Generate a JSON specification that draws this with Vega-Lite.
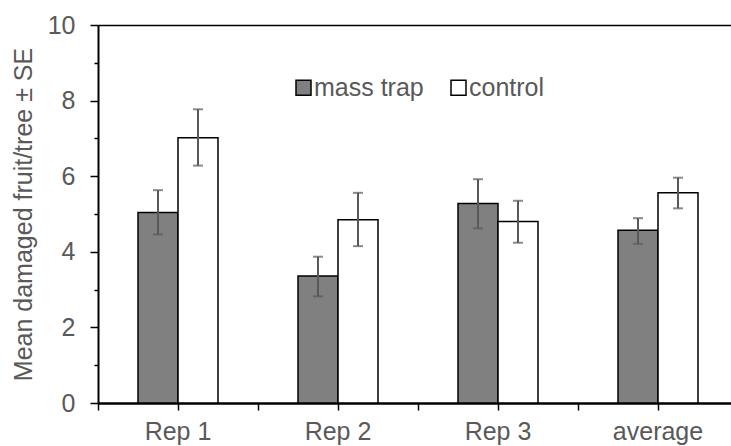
{
  "$schema": "https://vega.github.io/schema/vega-lite/v6.json",
  "width": 633,
  "height": 378,
  "autosize": {"type": "none"},
  "padding": {"left": 98, "top": 25, "right": 0, "bottom": 43},
  "background": "white",
  "config": {"view": {"stroke": null}, "axis": {"grid": false}, "font": "Liberation Sans"},
  "data": {
    "values": [
      {"rep": "Rep 1", "treatment": "mass trap", "mean": 5.04, "lower": 4.46, "upper": 5.63},
      {"rep": "Rep 1", "treatment": "control", "mean": 7.02, "lower": 6.28, "upper": 7.77},
      {"rep": "Rep 2", "treatment": "mass trap", "mean": 3.36, "lower": 2.82, "upper": 3.87},
      {"rep": "Rep 2", "treatment": "control", "mean": 4.85, "lower": 4.15, "upper": 5.56},
      {"rep": "Rep 3", "treatment": "mass trap", "mean": 5.28, "lower": 4.62, "upper": 5.92},
      {"rep": "Rep 3", "treatment": "control", "mean": 4.8, "lower": 4.24, "upper": 5.35},
      {"rep": "average", "treatment": "mass trap", "mean": 4.57, "lower": 4.21, "upper": 4.89},
      {"rep": "average", "treatment": "control", "mean": 5.56, "lower": 5.15, "upper": 5.96}
    ]
  },
  "layer": [
    {
      "mark": {"type": "bar", "stroke": "black", "strokeWidth": 1.5},
      "encoding": {
        "x": {
          "field": "rep", "type": "nominal",
          "sort": ["Rep 1", "Rep 2", "Rep 3", "average"],
          "scale": {"range": [0, 640], "paddingInner": 0, "paddingOuter": 0},
          "axis": {"orient": "bottom", "title": null, "labelAngle": 0, "labelFontSize": 25, "labelColor": "#595959", "tickColor": "black", "tickSize": 7, "tickWidth": 1.5, "domainColor": "black", "domainWidth": 2, "labelPadding": 9}
        },
        "xOffset": {"field": "treatment", "type": "nominal", "sort": ["mass trap", "control"], "scale": {"paddingInner": 0, "paddingOuter": 1.078}},
        "y": {
          "field": "mean", "type": "quantitative",
          "scale": {"domain": [0, 10], "nice": false},
          "axis": {"orient": "left", "values": [0, 2, 4, 6, 8, 10], "title": "Mean damaged fruit/tree ± SE", "titleFontSize": 25, "titleFontWeight": "normal", "titleColor": "#595959", "titlePadding": 11, "labelFontSize": 25, "labelColor": "#595959", "labelPadding": 15, "tickSize": 8, "tickWidth": 1.5, "tickColor": "black", "domainColor": "black", "domainWidth": 2}
        },
        "fill": {
          "field": "treatment", "type": "nominal",
          "scale": {"domain": ["mass trap", "control"], "range": ["#808080", "#ffffff"]},
          "legend": {"orient": "none", "legendX": 193, "legendY": 50, "direction": "horizontal", "title": null, "symbolType": "square", "symbolSize": 225, "symbolStrokeColor": "black", "symbolStrokeWidth": 1.5, "labelFontSize": 25, "labelColor": "#595959", "labelOffset": -2, "columnPadding": 22, "padding": 0}
        }
      }
    },
    {
      "mark": {"type": "rule", "color": "#595959", "strokeWidth": 2},
      "encoding": {
        "x": {"field": "rep", "type": "nominal", "sort": ["Rep 1", "Rep 2", "Rep 3", "average"], "axis": {"orient": "bottom", "tickBand": "extent", "labels": false, "title": null, "tickSize": 7, "tickWidth": 1.5, "tickColor": "black", "domainColor": "black", "domainWidth": 2}},
        "xOffset": {"field": "treatment", "type": "nominal", "sort": ["mass trap", "control"]},
        "y": {"field": "lower", "type": "quantitative", "axis": {"orient": "left", "values": [1, 3, 5, 7, 9], "labels": false, "title": null, "tickSize": 4, "tickWidth": 1.5, "tickColor": "black", "domain": false}},
        "y2": {"field": "upper"}
      }
    },
    {
      "mark": {"type": "tick", "color": "#595959", "size": 10, "thickness": 2},
      "encoding": {
        "x": {"field": "rep", "type": "nominal", "sort": ["Rep 1", "Rep 2", "Rep 3", "average"], "axis": {"orient": "top", "ticks": false, "labels": false, "title": null, "domainColor": "black", "domainWidth": 1.5}},
        "xOffset": {"field": "treatment", "type": "nominal", "sort": ["mass trap", "control"]},
        "y": {"field": "upper", "type": "quantitative", "axis": null}
      }
    },
    {
      "mark": {"type": "tick", "color": "#595959", "size": 10, "thickness": 2},
      "encoding": {
        "x": {"field": "rep", "type": "nominal", "sort": ["Rep 1", "Rep 2", "Rep 3", "average"], "axis": null},
        "xOffset": {"field": "treatment", "type": "nominal", "sort": ["mass trap", "control"]},
        "y": {"field": "lower", "type": "quantitative", "axis": null}
      }
    }
  ],
  "resolve": {"axis": {"x": "independent", "y": "independent"}}
}
